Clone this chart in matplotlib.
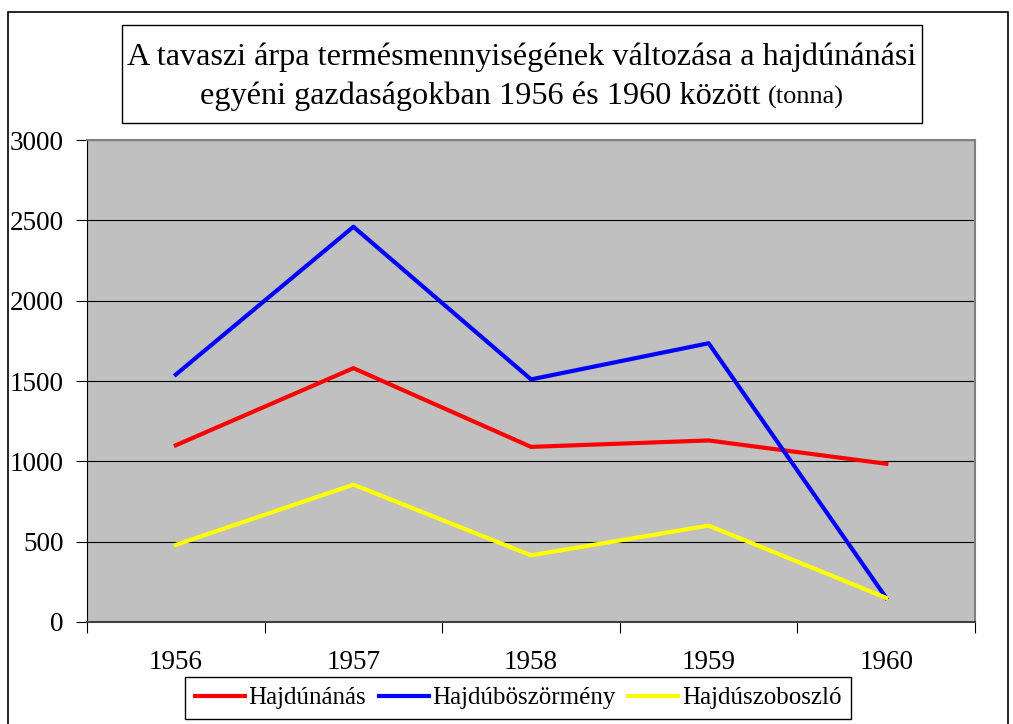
import matplotlib.pyplot as plt
from matplotlib.patches import Rectangle
from matplotlib.offsetbox import TextArea, HPacker, AnchoredOffsetbox

plt.rcParams['font.family'] = ['Liberation Serif', 'DejaVu Serif']

years = ['1956', '1957', '1958', '1959', '1960']
hajdunanas = [1100, 1580, 1090, 1130, 985]
hajduboszormeny = [1540, 2460, 1510, 1735, 150]
hajduszoboszlo = [480, 855, 415, 600, 150]

fig = plt.figure(figsize=(10.13, 7.24), dpi=100)
ax = fig.add_axes([0.0859, 0.1409, 0.8766, 0.6657])
ax.set_facecolor('#C0C0C0')

x = range(len(years))
ax.plot(x, hajdunanas, color='#FF0000', lw=3, label='Hajdúnánás', zorder=3)
ax.plot(x, hajduboszormeny, color='#0000FF', lw=3, label='Hajdúböszörmény', zorder=3)
ax.plot(x, hajduszoboszlo, color='#FFFF00', lw=3, label='Hajdúszoboszló', zorder=3)

ax.set_xlim(-0.5, len(years) - 0.5)
ax.set_ylim(0, 3000)
ax.set_yticks(range(0, 3001, 500))
ax.yaxis.grid(True, color='black', lw=0.8)
ax.set_axisbelow(True)

# category boundaries get the tick marks, labels sit in the middle
ax.set_xticks([i - 0.5 for i in range(len(years) + 1)])
ax.set_xticklabels([])
ax.set_xticks(list(x), minor=True)
ax.set_xticklabels(years, minor=True)
ax.tick_params(axis='x', which='major', length=8, width=0.8, direction='out')
ax.tick_params(axis='x', which='minor', length=0, pad=20, labelsize=19.5)
ax.tick_params(axis='y', length=8, width=0.8, direction='out', pad=9, labelsize=19.5)

for side in ('top', 'right'):
    ax.spines[side].set_color('#808080')
    ax.spines[side].set_linewidth(1.5)
ax.spines['left'].set_color('black')
ax.spines['bottom'].set_color('#404040')
ax.spines['bottom'].set_linewidth(1.5)

# outer chart frame
fig.patches.append(Rectangle((8 / 1013, -0.02), 1000 / 1013, 1 - 12 / 724 + 0.02,
                             transform=fig.transFigure, fill=False,
                             edgecolor='black', lw=1.2))

# title box
fig.patches.append(Rectangle((122 / 1013, 1 - 123 / 724), 800 / 1013, 98 / 724,
                             transform=fig.transFigure, fill=False,
                             edgecolor='black', lw=1))
fig.text(522 / 1013, 1 - 57 / 724,
         'A tavaszi árpa termésmennyiségének változása a hajdúnánási',
         ha='center', va='center', fontsize=23.2)
line2 = HPacker(children=[
    TextArea('egyéni gazdaságokban 1956 és 1960 között ', textprops=dict(fontsize=23.2)),
    TextArea('(tonna)', textprops=dict(fontsize=19)),
], align='baseline', pad=0, sep=0)
fig.add_artist(AnchoredOffsetbox(loc='center', child=line2, frameon=False, pad=0,
                                 bbox_to_anchor=(522 / 1013, 1 - 96 / 724),
                                 bbox_transform=fig.transFigure, borderpad=0))

leg = fig.legend(loc='center', bbox_to_anchor=(518 / 1013, 1 - 698 / 724), ncol=3,
                 fontsize=18, frameon=True, fancybox=False, edgecolor='black',
                 framealpha=1, handlelength=2.0, handletextpad=0.15,
                 columnspacing=0.5, borderpad=0.4)
leg.get_frame().set_linewidth(1)

fig.savefig('out.png', dpi=100)
